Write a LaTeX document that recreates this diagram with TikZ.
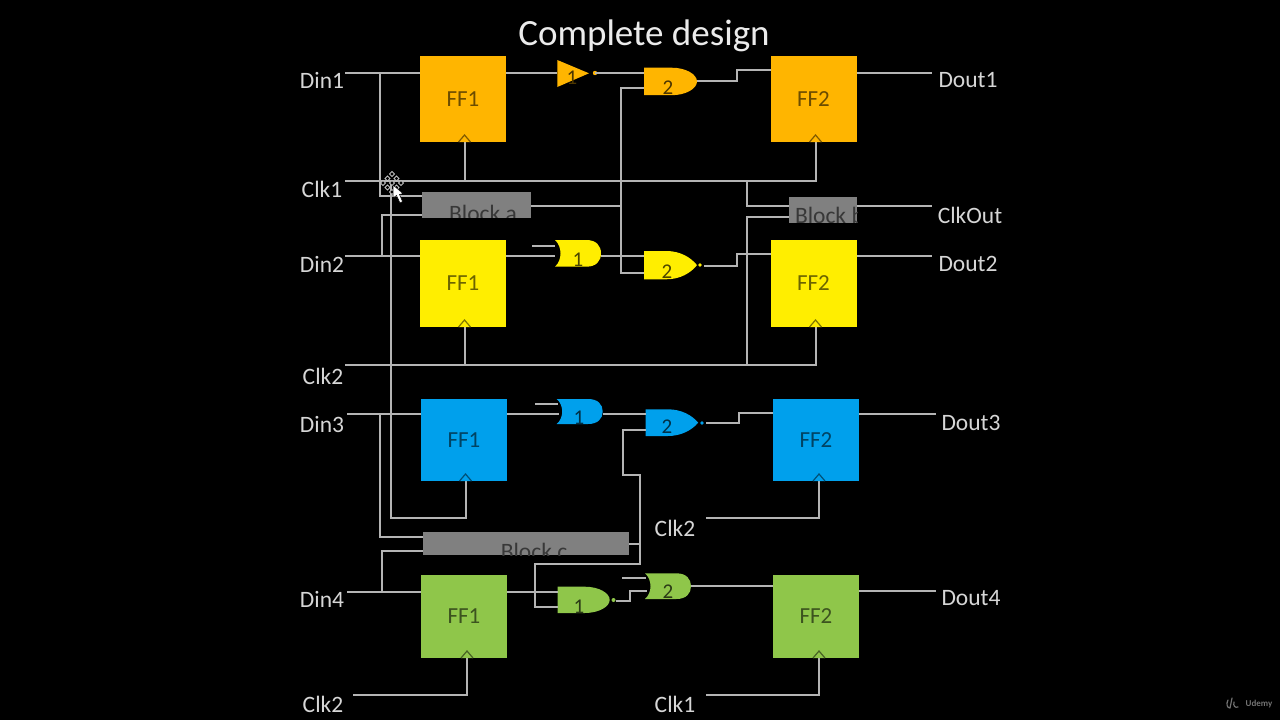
\documentclass[tikz,border=0pt]{standalone}
\usepackage{fontspec}
\setmainfont{Carlito}
\usetikzlibrary{calc}
\definecolor{wirec}{HTML}{B4B4B4}
\definecolor{txtc}{HTML}{D6D6D6}
\definecolor{co}{HTML}{FFB500}
\definecolor{cy}{HTML}{FFEE00}
\definecolor{cb}{HTML}{00A0EC}
\definecolor{cg}{HTML}{8FC64A}
\definecolor{blk}{HTML}{808080}
\tikzset{
  wire/.style={draw=wirec,line width=2pt,line join=miter},
  lab/.style={text=txtc,font=\fontsize{23.5}{25}\selectfont,inner sep=0pt,outer sep=0pt},
  ffbox/.style={rectangle,inner sep=0pt,outer sep=0pt,minimum width=86pt,fill=#1,text=#1!42!black,font=\fontsize{23}{25}\selectfont},
  blockbox/.style={rectangle,inner sep=0pt,outer sep=0pt,fill=blk},
  blocktxt/.style={text=black!78,font=\fontsize{23.5}{25}\selectfont,inner sep=0pt,outer sep=0pt},
  gatetxt/.style={text=#1!30!black,font=\fontsize{21}{23}\selectfont,inner sep=0pt,outer sep=0pt},
  ganchor/.style={rectangle,inner sep=0pt,outer sep=0pt},
}
% name, left, top, width, height, colour
\newcommand\gatebox[6]{\node[ganchor,minimum width=#4pt,minimum height=#5pt] (#1) at (#2+#4/2,#3+#5/2) {};}
\newcommand\andshape[6]{\begin{scope}[shift={(#2,#3)},x=#4pt,y=-#5pt]
 \fill[#6] (0,0) -- (0.52,0) .. controls (0.8,0) and (1,0.25) .. (1,0.5) .. controls (1,0.75) and (0.8,1) .. (0.52,1) -- (0,1) -- cycle;
 \end{scope}\gatebox{#1}{#2}{#3}{#4}{#5}{#6}}
\newcommand\pointshape[6]{\begin{scope}[shift={(#2,#3)},x=#4pt,y=-#5pt]
 \fill[#6] (0,0) -- (0.42,0) .. controls (0.68,0) and (0.88,0.22) .. (1,0.5) .. controls (0.88,0.78) and (0.68,1) .. (0.42,1) -- (0,1) -- cycle;
 \end{scope}\gatebox{#1}{#2}{#3}{#4}{#5}{#6}}
\newcommand\backshape[6]{\begin{scope}[shift={(#2,#3)},x=#4pt,y=-#5pt]
 \fill[#6] (0,0) -- (0.68,0) .. controls (0.9,0) and (1,0.22) .. (1,0.5) .. controls (1,0.78) and (0.9,1) .. (0.68,1) -- (0,1) .. controls (0.16,0.75) and (0.16,0.25) .. (0,0) -- cycle;
 \end{scope}\gatebox{#1}{#2}{#3}{#4}{#5}{#6}}
\newcommand\clkmark[2]{\filldraw[fill=#2,draw=#2!50!black,line width=1.2pt] ($(#1)+(-6,0)$) -- ($(#1)+(0,-7)$) -- ($(#1)+(6,0)$);}
\begin{document}
\begin{tikzpicture}[x=1pt,y=-1pt]
\useasboundingbox (0,0) rectangle (1280,720);
\fill[black] (0,0) rectangle (1280,720);

\node[text=white!92!black,font=\fontsize{37}{40}\selectfont,inner sep=0pt] (title) at (644,36) {Complete design};

% flip-flops
\node[ffbox=co,minimum height=86pt] (oa) at (463,99) {FF1};
\node[ffbox=co,minimum height=86pt] (ob) at (813.5,99) {FF2};
\node[ffbox=cy,minimum height=87pt] (ya) at (463,283.5) {FF1};
\node[ffbox=cy,minimum height=87pt] (yb) at (813.5,283.5) {FF2};
\node[ffbox=cb,minimum height=82pt] (ba) at (464,440) {FF1};
\node[ffbox=cb,minimum height=82pt] (bb) at (816,440) {FF2};
\node[ffbox=cg,minimum height=83pt] (ga) at (464,616.5) {FF1};
\node[ffbox=cg,minimum height=83pt] (gb) at (816,616.5) {FF2};

% blocks
\node[blockbox,minimum width=109.5pt,minimum height=25.5pt] (blocka) at (476.25,205) {};
\node[blockbox,minimum width=68.5pt,minimum height=26pt] (blockb) at (823,209.7) {};
\node[blockbox,minimum width=206.5pt,minimum height=23pt] (blockc) at (525.75,543.5) {};
\begin{scope}\clip (blocka.south west) rectangle (blocka.north east);
\node[blocktxt,anchor=base] (ta) at (483,221) {Block a};\end{scope}
\begin{scope}\clip (blockb.south west) rectangle (blockb.north east);
\node[blocktxt,anchor=base west] (tb) at (795,223) {Block b};\end{scope}
\begin{scope}\clip (blockc.south west) rectangle (blockc.north east);
\node[blocktxt,anchor=base] (tc) at (534,559) {Block c};\end{scope}

% gates
\fill[co] (557.3,60) -- (589,73.3) -- (557.3,87) -- cycle;
\node[ganchor,minimum width=32pt,minimum height=27pt] (go1) at (573,73.5) {};
\andshape{go2}{644}{67.7}{53}{27.5}{co}
\backshape{gy1}{555}{240}{46}{26.7}{cy}
\pointshape{gy2}{644}{251}{53}{28.3}{cy}
\backshape{gb1}{556.7}{399}{46}{25}{cb}
\pointshape{gb2}{645.7}{409.3}{52.5}{26.7}{cb}
\andshape{gg1}{557.7}{586.7}{52}{26.3}{cg}
\backshape{gg2}{645}{573.3}{46}{25.7}{cg}

% inverter / output bubbles
\fill[co] (595,73) circle (2.2pt) coordinate (bo1);
\fill[cy] (700,265) circle (1.8pt) coordinate (by2);
\fill[cb] (702,423) circle (1.8pt) coordinate (bb2);
\fill[cg] (613.5,600) circle (2pt) coordinate (bg1);

% labels
\node[lab] (din1) at (322,80) {Din1};
\node[lab] (clk1) at (322,189) {Clk1};
\node[lab] (din2) at (322,264) {Din2};
\node[lab] (clk2) at (323,376) {Clk2};
\node[lab] (din3) at (322,424) {Din3};
\node[lab] (din4) at (322,599) {Din4};
\node[lab] (clk2b) at (323,704) {Clk2};
\node[lab] (clk2c) at (675,528) {Clk2};
\node[lab] (clk1c) at (675,704) {Clk1};
\node[lab] (dout1) at (968,80) {Dout1};
\node[lab] (clkout) at (970,215) {ClkOut};
\node[lab] (dout2) at (968,264) {Dout2};
\node[lab] (dout3) at (971,423) {Dout3};
\node[lab] (dout4) at (971,598) {Dout4};

% free ends and junctions
\coordinate (wd1) at (345,73);   \coordinate (jd1) at (380,73);
\coordinate (wc1) at (345,181);  \coordinate (wd2) at (345,256);
\coordinate (wc2) at (345,365);  \coordinate (wd3) at (347,414);
\coordinate (jd3) at (380,414);  \coordinate (wd4) at (347,592);
\coordinate (wc2b) at (353,695); \coordinate (wc2c) at (706,518);
\coordinate (wc1c) at (706,695);
\coordinate (e1) at (932,73);  \coordinate (e2) at (932,206);
\coordinate (e3) at (932,256); \coordinate (e4) at (936,414);
\coordinate (e5) at (936,591);
\coordinate (ckoa) at (464.5,142); \coordinate (ckob) at (815.5,142);
\coordinate (ckya) at (464.5,327); \coordinate (ckyb) at (815.5,327);
\coordinate (ckba) at (465.5,481); \coordinate (ckbb) at (819,481);
\coordinate (ckga) at (467,658);   \coordinate (ckgb) at (819,658);

% row 1
\draw[wire] (wd1) -- (wd1 -| oa.west);
\draw[wire] (wd1 -| oa.east) -- (wd1 -| go1.west);
\draw[wire] (bo1) -- (wd1 -| go2.west);
\draw[wire] (go2.east) -| (736.5,70) -- (ob.west |- 0,70);
\draw[wire] (e1 -| ob.east) -- (e1);
\draw[wire] (jd1) |- (blocka.west |- 0,195.5);
\draw[wire] (wc1) -- (ckob |- wc1) -- (ckob);
\draw[wire] (ckoa |- wc1) -- (ckoa);
\draw[wire] (391,181) -- (391,518) -| (ckba);
% block a
\draw[wire] (blocka.west |- 0,214.5) -| (381.5,256);
\draw[wire] (blocka.east |- 0,205.7) -- (621,205.7);
\draw[wire] (go2.west |- 0,88.3) -| (621,273.3) -- (gy2.west |- 0,273.3);
% block b
\draw[wire] (747,181) |- (blockb.west |- 0,205.7);
\draw[wire] (blockb.west |- 0,216.7) -| (747,365);
\draw[wire] (blockb.east |- e2) -- (e2);
% row 2
\draw[wire] (wd2) -- (wd2 -| ya.west);
\draw[wire] (wd2 -| ya.east) -- (wd2 -| gy1.west);
\draw[wire] (532,246) -- (gy1.west |- 0,246);
\draw[wire] (gy1.east |- wd2) -- (gy2.west |- wd2);
\draw[wire] (704,266) -| (736.5,254) -- (yb.west |- 0,254);
\draw[wire] (e3 -| yb.east) -- (e3);
\draw[wire] (wc2) -- (ckyb |- wc2) -- (ckyb);
\draw[wire] (ckya |- wc2) -- (ckya);
% row 3
\draw[wire] (wd3) -- (wd3 -| ba.west);
\draw[wire] (jd3) |- (blockc.west |- 0,537);
\draw[wire] (blockc.west |- 0,551) -| (381.5,592);
\draw[wire] (wd3 -| ba.east) -- (559,414);
\draw[wire] (535,404) -- (558,404);
\draw[wire] (gb1.east |- wd3) -- (gb2.west |- wd3);
\draw[wire] (706,423) -| (739,412.5) -- (bb.west |- 0,412.5);
\draw[wire] (e4 -| bb.east) -- (e4);
\draw[wire] (wc2c) -| (ckbb);
% block c
\draw[wire] (blockc.east |- 0,544) -- (640,544);
\draw[wire] (gb2.west |- 0,430) -| (622.5,475) -| (640,564) -| (535,606.7) -- (gg1.west |- 0,606.7);
% row 4
\draw[wire] (wd4) -- (wd4 -| ga.west);
\draw[wire] (wd4 -| ga.east) -- (gg1.west |- wd4);
\draw[wire] (616,600.5) -| (630,591) -- (647,591);
\draw[wire] (622,578) -- (646,578);
\draw[wire] (gg2.east |- 0,586) -- (gb.west |- 0,586);
\draw[wire] (e5 -| gb.east) -- (e5);
\draw[wire] (wc2b) -| (ckga);
\draw[wire] (wc1c) -| (ckgb);

% clock marks
\clkmark{ckoa}{co}\clkmark{ckob}{co}
\clkmark{ckya}{cy}\clkmark{ckyb}{cy}
\clkmark{ckba}{cb}\clkmark{ckbb}{cb}
\clkmark{ckga}{cg}\clkmark{ckgb}{cg}

% gate numbers
\node[gatetxt=co] (n1) at (572,78) {1};
\node[gatetxt=co] (n2) at (668,88) {2};
\node[gatetxt=cy] (n3) at (578,260) {1};
\node[gatetxt=cy] (n4) at (667,272) {2};
\node[gatetxt=cb] (n5) at (579,418) {1};
\node[gatetxt=cb] (n6) at (667,427) {2};
\node[gatetxt=cg] (n7) at (579,607) {1};
\node[gatetxt=cg] (n8) at (668,592) {2};

% mouse cursor
\foreach \dx/\dy in {0/-9,-4.5/-4.5,4.5/-4.5,-9/0,0/0,9/0,-4.5/4.5,4.5/4.5,0/9}
  \draw[white!75!black,line width=.9pt,fill=black] ($(392,183)+(\dx,\dy)$) ++(-2.4,0) -- ++(2.4,-2.4) -- ++(2.4,2.4) -- ++(-2.4,2.4) -- cycle;
\fill[white,draw=black,line width=.5pt] (393,185) -- (393,198) -- (396.5,195.5) -- (400,203) -- (402.5,201.5) -- (399.5,194.5) -- (403,193.5) -- cycle;

% watermark
\draw[white!45!black,line width=1.2pt,line cap=round] (1228,700) .. controls (1226,704) and (1227,708) .. (1230,708) (1232,698) -- (1230,708) (1234,702) .. controls (1233,706) and (1235,708) .. (1238,707);
\node[text=white!45!black,font=\fontsize{9}{10}\selectfont\bfseries,inner sep=0pt] (wm) at (1259,704) {Udemy};
\end{tikzpicture}
\end{document}
